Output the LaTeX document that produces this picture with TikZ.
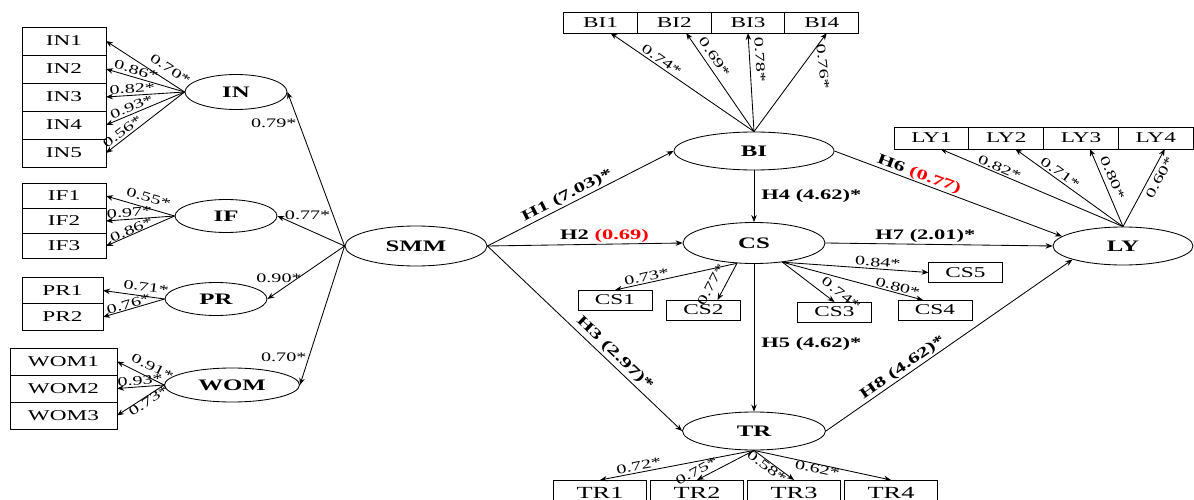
\documentclass[tikz,border=0pt]{standalone}
\usepackage{fontspec}
\setmainfont{Liberation Serif}[FakeStretch=1.55]
\usepackage{xcolor}
\usetikzlibrary{arrows.meta}
\usetikzlibrary{positioning,shapes.geometric}

\begin{document}
\begin{tikzpicture} [x=1pt,y=-1pt,-{Stealth[length=7pt,width=5.5pt]},line width=0.85pt,
  latent/.style={ellipse,draw,inner sep=0pt,font=\fontsize{16}{18}\selectfont\bfseries},
  item/.style={rectangle,draw,inner sep=0pt,outer sep=0pt,font=\fontsize{15}{17}\selectfont},
  load/.style={font=\fontsize{13}{15}\selectfont,inner sep=2pt},
  hyp/.style={font=\fontsize{14.5}{16}\selectfont\bfseries,inner sep=1pt}]

  \useasboundingbox (0,0) rectangle (1194,500);

  % constructs
  \node[latent,minimum width=142pt,minimum height=40pt] (SMM) at (416,246) {SMM};
  \node[latent,minimum width=102pt,minimum height=35pt] (IN) at (236,92) {IN};
  \node[latent,minimum width=102pt,minimum height=33pt] (IF) at (226,216) {IF};
  \node[latent,minimum width=102pt,minimum height=33pt] (PR) at (216,299) {PR};
  \node[latent,minimum width=135pt,minimum height=34pt] (WOM) at (232,385) {WOM};
  \node[latent,minimum width=160pt,minimum height=38pt] (BI) at (754,151) {BI};
  \node[latent,minimum width=142pt,minimum height=41pt] (CS) at (754,243) {CS};
  \node[latent,minimum width=143pt,minimum height=38pt] (TR) at (754,431) {TR};
  \node[latent,minimum width=140pt,minimum height=38pt] (LY) at (1123,246) {LY};

  % indicators
  \node[item,minimum width=84pt,minimum height=28pt] (IN1) at (64,41) {IN1};
  \node[item,minimum width=84pt,minimum height=28pt,below=0pt of IN1] (IN2) {IN2};
  \node[item,minimum width=84pt,minimum height=28pt,below=0pt of IN2] (IN3) {IN3};
  \node[item,minimum width=84pt,minimum height=28pt,below=0pt of IN3] (IN4) {IN4};
  \node[item,minimum width=84pt,minimum height=28pt,below=0pt of IN4] (IN5) {IN5};

  \node[item,minimum width=84pt,minimum height=25pt] (IF1) at (64,196) {IF1};
  \node[item,minimum width=84pt,minimum height=25pt,below=0pt of IF1] (IF2) {IF2};
  \node[item,minimum width=84pt,minimum height=25pt,below=0pt of IF2] (IF3) {IF3};

  \node[item,minimum width=81pt,minimum height=26.5pt] (PR1) at (62.5,290.5) {PR1};
  \node[item,minimum width=81pt,minimum height=26.5pt,below=0pt of PR1] (PR2) {PR2};

  \node[item,minimum width=107pt,minimum height=27pt] (WOM1) at (63.5,361.5) {WOM1};
  \node[item,minimum width=107pt,minimum height=27pt,below=0pt of WOM1] (WOM2) {WOM2};
  \node[item,minimum width=107pt,minimum height=27pt,below=0pt of WOM2] (WOM3) {WOM3};

  \node[item,minimum width=73.75pt,minimum height=21pt] (BI1) at (600.5,22.5) {BI1};
  \node[item,minimum width=73.75pt,minimum height=21pt,right=0pt of BI1] (BI2) {BI2};
  \node[item,minimum width=73.75pt,minimum height=21pt,right=0pt of BI2] (BI3) {BI3};
  \node[item,minimum width=73.75pt,minimum height=21pt,right=0pt of BI3] (BI4) {BI4};

  \node[item,minimum width=74.75pt,minimum height=22pt] (LY1) at (931.5,138) {LY1};
  \node[item,minimum width=74.75pt,minimum height=22pt,right=0pt of LY1] (LY2) {LY2};
  \node[item,minimum width=74.75pt,minimum height=22pt,right=0pt of LY2] (LY3) {LY3};
  \node[item,minimum width=74.75pt,minimum height=22pt,right=0pt of LY3] (LY4) {LY4};

  \node[item,minimum width=74pt,minimum height=20pt] (CS1) at (615,300) {CS1};
  \node[item,minimum width=74pt,minimum height=20pt] (CS2) at (703.5,310) {CS2};
  \node[item,minimum width=74pt,minimum height=20pt] (CS3) at (834.5,312) {CS3};
  \node[item,minimum width=74pt,minimum height=20pt] (CS4) at (935,310) {CS4};
  \node[item,minimum width=74pt,minimum height=20pt] (CS5) at (965.5,272.5) {CS5};

  \node[item,minimum width=93pt,minimum height=25pt,font=\fontsize{17}{19}\selectfont] (TR1) at (600,492.5) {TR1};
  \node[item,minimum width=93pt,minimum height=25pt,font=\fontsize{17}{19}\selectfont,right=4pt of TR1] (TR2) {TR2};
  \node[item,minimum width=93pt,minimum height=25pt,font=\fontsize{17}{19}\selectfont,right=4pt of TR2] (TR3) {TR3};
  \node[item,minimum width=93pt,minimum height=25pt,font=\fontsize{17}{19}\selectfont,right=4pt of TR3] (TR4) {TR4};

  % loadings
  \path
    (IN.west) edge node[load,sloped,above,pos=0.26,inner sep=6.5pt] {0.70*} (IN1.east)
    (IN.west) edge node[load,sloped,above,pos=0.64,inner sep=2.5pt] {0.86*} (IN2.east)
    (IN.west) edge node[load,sloped,above,pos=0.66,inner sep=1.8pt] {0.82*} (IN3.east)
    (IN.west) edge node[load,sloped,above,pos=0.64,inner sep=1.8pt] {0.93*} (IN4.east)
    (IN.west) edge node[load,sloped,above,pos=0.74,inner sep=2pt] {0.56*} (IN5.east)
    (IF.west) edge node[load,sloped,above,pos=0.42,inner sep=5.5pt] {0.55*} (IF1.east)
    (IF.west) edge node[load,sloped,above,pos=0.65,inner sep=1.8pt] {0.97*} (IF2.east)
    (IF.west) edge node[load,sloped,above,pos=0.6,inner sep=0pt] {0.86*} (IF3.east)
    (PR.west) edge node[load,sloped,above,pos=0.32,inner sep=4.2pt] {0.71*} (PR1.east)
    (PR.west) edge node[load,sloped,above,pos=0.56,inner sep=0.3pt] {0.76*} (PR2.east)
    (WOM.west) edge node[load,sloped,above,pos=0.35,inner sep=6pt] {0.91*} (WOM1.east)
    (WOM.west) edge node[load,sloped,above,pos=0.5,inner sep=1.3pt] {0.93*} (WOM2.east)
    (WOM.west) edge node[load,sloped,below,pos=0.38,inner sep=0pt] {0.73*} (WOM3.east)
    (BI.north) edge node[load,sloped,above,pos=0.67,inner sep=2pt] {0.74*} ([xshift=10pt]BI1.south)
    (BI.north) edge node[load,sloped,above,pos=0.7,inner sep=4.8pt] {0.69*} ([xshift=12pt]BI2.south)
    (BI.north) edge node[load,sloped,above,pos=0.72,inner sep=5.5pt] {0.78*} (BI3.south)
    (BI.north) edge node[load,pos=0.66,xshift=21pt,rotate=-84] {0.76*} ([xshift=5pt]BI4.south)
    (LY.north) edge node[load,sloped,above,pos=0.69,inner sep=1.5pt] {0.82*} ([xshift=9pt]LY1.south)
    (LY.north) edge node[load,sloped,above,pos=0.62,inner sep=2pt] {0.71*} ([xshift=9pt]LY2.south)
    (LY.north) edge node[load,sloped,above,pos=0.58,inner sep=4.5pt] {0.80*} ([xshift=9pt]LY3.south)
    (LY.north) edge node[load,sloped,below,pos=0.69,inner sep=4pt] {0.60*} ([xshift=9pt]LY4.south)
    (CS.-130) edge node[load,sloped,above,pos=0.73,inner sep=1.5pt] {0.73*} (CS1.north)
    (CS.-130) edge node[load,sloped,above,pos=0.75,inner sep=8pt] {0.77*} ([xshift=14pt]CS2.north)
    (CS.-34) edge node[load,sloped,above,pos=1,inner sep=6pt] {0.74*} (CS3.north)
    (CS.-34) edge node[load,sloped,above,pos=0.81,inner sep=1.3pt] {0.80*} ([xshift=-12pt]CS4.north)
    (CS.-34) edge node[load,sloped,above,pos=0.65,inner sep=1.7pt] {0.84*} (CS5.west)
    (TR.south) edge node[load,sloped,above,pos=0.74,inner sep=2pt] {0.72*} (TR1.north)
    (TR.south) edge node[load,sloped,above,pos=0.94,inner sep=3.5pt] {0.75*} (TR2.north)
    (TR.south) edge node[load,sloped,below,pos=0.4,inner sep=0.5pt] {0.58*} (TR3.north)
    (TR.south) edge node[load,sloped,below,pos=0.47,inner sep=0pt] {0.62*} (TR4.north);

  % second order
  \path
    (SMM.west) edge node[load,left,pos=0.8] {0.79*} (IN.east)
    (SMM.west) edge node[load,above=7pt,pos=0.55] {0.77*} (IF.east)
    (SMM.west) edge node[load,above=6pt,pos=0.85] {0.90*} (PR.east)
    (SMM.west) edge node[load,left,pos=0.8] {0.70*} (WOM.east);

  % hypotheses
  \path
    (SMM.east) edge node[hyp,sloped,above,pos=0.45,inner sep=1.5pt] {H1 (7.03)*} (BI.west)
    (SMM.east) edge node[hyp,above,pos=0.6] {H2 \textcolor{red}{(0.69)}} (CS.west)
    (SMM.east) edge node[hyp,sloped,above,pos=0.62,inner sep=2.5pt] {H3 (2.97)*} (TR.west)
    (BI.south) edge node[hyp,right=6pt] {H4 (4.62)*} (CS.north)
    (CS.south) edge node[hyp,right=6pt,pos=0.54] {H5 (4.62)*} (TR.north)
    (BI.east) edge node[hyp,sloped,above,pos=0.36,inner sep=0.5pt] {H6 \textcolor{red}{(0.77)}} (LY.171)
    (CS.east) edge node[hyp,above,pos=0.44] {H7 (2.01)*} (LY.west)
    (TR.east) edge node[hyp,sloped,above,pos=0.33,inner sep=1pt] {H8 (4.62)*} (LY.195);
\end{tikzpicture}
\end{document}
